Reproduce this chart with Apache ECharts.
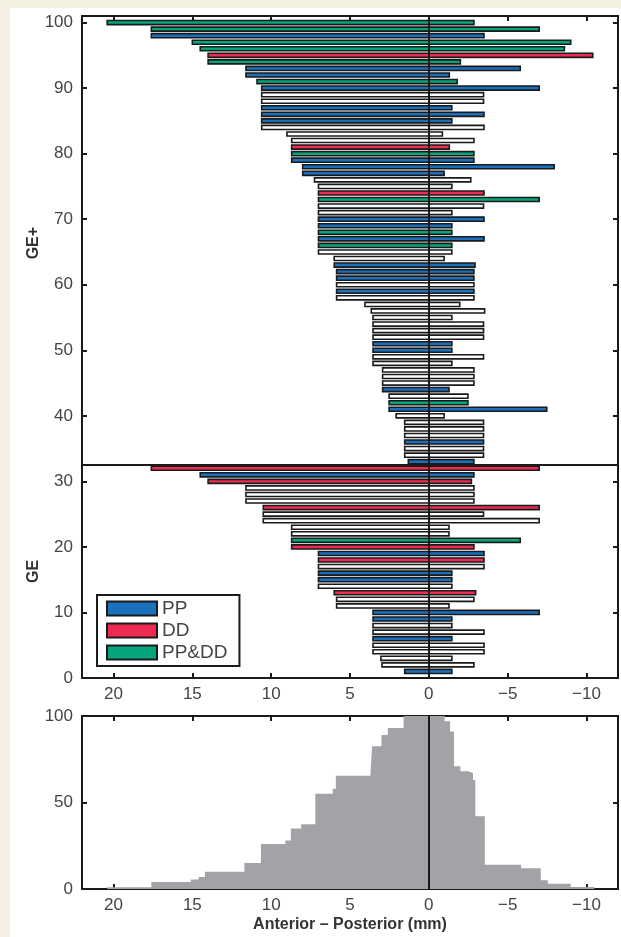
<!DOCTYPE html>
<html>
<head>
<meta charset="utf-8">
<script src="https://cdn.jsdelivr.net/npm/echarts@6/dist/echarts.min.js"></script>
<style>
  html, body { margin: 0; padding: 0; background: #f4f0e2; }
  #sheet { position: absolute; left: 10px; top: 8px; width: 611px; height: 929px; background: #fff; }
  #main { position: absolute; left: 0; top: 0; width: 621px; height: 937px; }
</style>
</head>
<body>
<div id="sheet"></div>
<div id="main"></div>
<script>
// rows are listed from the top row (100) down to row 1
// group: P = PP, D = DD, B = PP&DD, N = none
var rowGroup = [
  'B','B','P','B','B','D','B','P','P','B',
  'P','N','N','P','P','P','N','N','N','D',
  'B','P','P','P','N','N','D','B','N','N',
  'P','P','B','P','B','N','N','P','P','P',
  'N','P','N','N','N','N','N','N','N','P',
  'P','N','N','N','N','N','P','N','B','P',
  'N','N','N','N','P','N','N','P','D','P',
  'D','N','N','N','D','N','N','N','N','B',
  'D','P','D','N','P','P','N','D','N','N',
  'P','P','N','N','P','N','N','N','N','P'
];
var rowAnterior = [
  20.4, 17.6, 17.6, 15.0, 14.5, 14.0, 14.0, 11.6, 11.6, 10.9,
  10.6, 10.6, 10.6, 10.6, 10.6, 10.6, 10.6, 9.0, 8.7, 8.7,
  8.7, 8.7, 8.0, 8.0, 7.25, 7.0, 7.0, 7.0, 7.0, 7.0,
  7.0, 7.0, 7.0, 7.0, 7.0, 7.0, 6.0, 6.0, 5.85, 5.85,
  5.85, 5.85, 5.85, 4.05, 3.65, 3.54, 3.54, 3.54, 3.54, 3.54,
  3.54, 3.54, 3.54, 2.93, 2.93, 2.93, 2.93, 2.52, 2.52, 2.52,
  2.07, 1.53, 1.53, 1.53, 1.53, 1.53, 1.53, 1.3, 17.6, 14.5,
  14.0, 11.6, 11.6, 11.6, 10.5, 10.5, 10.5, 8.7, 8.7, 8.7,
  8.7, 7.0, 7.0, 7.0, 7.0, 7.0, 7.0, 6.0, 5.85, 5.85,
  3.54, 3.54, 3.54, 3.54, 3.54, 3.54, 3.54, 3.04, 2.97, 1.53
];
var rowPosterior = [
  2.86, 7.0, 3.5, 9.0, 8.6, 10.4, 2.0, 5.8, 1.3, 1.8,
  7.0, 3.47, 3.47, 1.46, 3.5, 1.46, 3.5, 0.86, 2.86, 1.3,
  2.86, 2.86, 7.95, 0.97, 2.66, 1.46, 3.5, 7.0, 3.47, 1.46,
  3.5, 1.46, 1.46, 3.5, 1.46, 1.46, 0.97, 2.93, 2.86, 2.86,
  2.86, 2.86, 2.86, 1.96, 3.54, 1.46, 3.47, 3.47, 3.47, 1.46,
  1.46, 3.47, 1.46, 2.86, 2.86, 2.86, 1.28, 2.48, 2.48, 7.48,
  0.97, 3.47, 3.47, 3.47, 3.47, 3.47, 3.47, 2.86, 7.0, 2.86,
  2.7, 2.86, 2.86, 2.86, 7.0, 3.47, 7.0, 1.28, 1.28, 5.8,
  2.86, 3.5, 3.5, 3.5, 1.46, 1.46, 1.46, 2.97, 2.86, 1.28,
  7.0, 1.46, 1.46, 3.5, 1.46, 3.5, 3.5, 1.46, 2.86, 1.46
];
var dividerRow = 32.5;

// histogram: level histCounts[i] starts at histEdges[i]
var histEdges = [20.4, 17.6, 15.1, 14.6, 14.2, 11.7, 10.65, 9.1, 8.75, 8.1, 7.2, 6.1, 5.9, 3.7, 3.6, 3.0,
  2.6, 1.6, -1.0, -1.35, -1.6, -2.0, -2.5, -2.8, -2.95, -3.55, -5.85, -7.1, -7.55, -9.0, -10.5];
var histCounts = [1, 4, 5.5, 7, 10, 15, 26, 28, 35, 37.5, 55, 58, 65.5, 67, 82.5, 89,
  93, 100, 97, 91, 71, 68, 67, 63, 42, 14, 12, 5, 3, 1.2, 0];

var xTickLabels = [20, 15, 10, 5, 0, -5, -10];
var yTickLabelsTop = [0, 10, 20, 30, 40, 50, 60, 70, 80, 90, 100];
var yTickLabelsBottom = [0, 50, 100];

var groups = [
  { code: 'P', name: 'PP', color: '#1b70bb' },
  { code: 'D', name: 'DD', color: '#ee2b53' },
  { code: 'B', name: 'PP&DD', color: '#06a67d' },
  { code: 'N', name: 'none', color: '#ffffff' }
];

var FONT = '"Liberation Sans", Arial, Helvetica, sans-serif';
var INK = '#1a1a1a';
var LABEL = '#444';

var chart = echarts.init(document.getElementById('main'), null, { renderer: 'canvas' });

function xFmt(v) {
  if (xTickLabels.indexOf(v) < 0) return '';
  return v < 0 ? '\u2212' + (-v) : String(v);
}
function yFmt(list) {
  return function (v) { return list.indexOf(v) < 0 ? '' : String(v); };
}

function renderRow(params, api) {
  var y = api.value(1);
  var a = api.coord([api.value(0), y]);
  var p = api.coord([-api.value(2), y]);
  var h = api.size([0, 0.62])[1];
  return {
    type: 'rect',
    shape: { x: Math.min(a[0], p[0]), y: a[1] - h / 2, width: Math.abs(p[0] - a[0]), height: h },
    style: { fill: api.visual('color'), stroke: INK, lineWidth: 1.6 }
  };
}

var axisLine = { show: true, onZero: false, lineStyle: { color: INK, width: 2 } };
var axisTick = { show: true, inside: true, length: 5, lineStyle: { color: INK, width: 2 } };

function xAxes(grid, name) {
  var base = {
    gridIndex: grid, type: 'value', inverse: true, min: -12, max: 22, splitNumber: 7,
    axisLine: axisLine, axisTick: axisTick, splitLine: { show: false }
  };
  var bottom = Object.assign({}, base, {
    position: 'bottom',
    axisLabel: { show: true, formatter: xFmt, color: LABEL, fontSize: 17, fontFamily: FONT, margin: 8 }
  });
  if (name) {
    bottom.name = name;
    bottom.nameLocation = 'middle';
    bottom.nameGap = 28;
    bottom.nameTextStyle = { fontSize: 16, fontWeight: 'bold', color: '#333', fontFamily: FONT };
  }
  var top = Object.assign({}, base, { position: 'top', axisLabel: { show: false } });
  return [bottom, top];
}
function yAxes(grid, max, interval, labels) {
  var base = {
    gridIndex: grid, type: 'value', min: 0, max: max, interval: interval,
    axisLine: axisLine, axisTick: axisTick, splitLine: { show: false }
  };
  return [
    Object.assign({}, base, {
      position: 'left',
      axisLabel: { formatter: yFmt(labels), color: LABEL, fontSize: 17, fontFamily: FONT, margin: 9 }
    }),
    Object.assign({}, base, { position: 'right', axisLabel: { show: false } })
  ];
}

var series = groups.map(function (g) {
  var data = [];
  for (var i = 0; i < rowGroup.length; i++) {
    if (rowGroup[i] === g.code) data.push([rowAnterior[i], rowGroup.length - i, rowPosterior[i]]);
  }
  return {
    name: g.name, type: 'custom', xAxisIndex: 0, yAxisIndex: 0,
    itemStyle: { color: g.color, borderColor: INK, borderWidth: 1.6 },
    renderItem: renderRow, data: data, silent: true, z: 2
  };
});

var refLine = { color: INK, width: 2, type: 'solid' };
series.push({
  type: 'line', xAxisIndex: 0, yAxisIndex: 0, data: [], z: 6, silent: true,
  markLine: { silent: true, symbol: 'none', label: { show: false }, lineStyle: refLine,
    data: [{ xAxis: 0 }, { yAxis: dividerRow }] }
});

series.push({
  type: 'line', xAxisIndex: 2, yAxisIndex: 2, step: 'end', symbol: 'none', silent: true,
  data: histEdges.map(function (x, i) { return [x, histCounts[i]]; }),
  lineStyle: { width: 0, color: '#a2a3a6' },
  areaStyle: { color: '#a2a3a6', opacity: 1 },
  z: 2,
  markLine: { silent: true, symbol: 'none', label: { show: false }, lineStyle: refLine, data: [{ xAxis: 0 }] }
});

chart.setOption({
  backgroundColor: 'transparent',
  animation: false,
  textStyle: { fontFamily: FONT },
  grid: [
    { left: 82, top: 16, width: 540, height: 662 },
    { left: 82, top: 716, width: 540, height: 173 }
  ],
  xAxis: xAxes(0).concat(xAxes(1, 'Anterior \u2013 Posterior (mm)')),
  yAxis: yAxes(0, 101, 10, yTickLabelsTop).concat(yAxes(1, 100, 50, yTickLabelsBottom)),
  legend: {
    data: ['PP', 'DD', 'PP&DD'],
    orient: 'vertical', left: 97, top: 595,
    itemWidth: 50, itemHeight: 14, itemGap: 3, itemTextGap: 5,
    padding: [4, 12, 4, 9],
    backgroundColor: '#fff', borderColor: INK, borderWidth: 2,
    icon: 'rect', selectedMode: false, z: 10,
    itemStyle: { borderColor: INK, borderWidth: 2 },
    textStyle: { fontSize: 19, color: LABEL, fontFamily: FONT }
  },
  series: series
});

var geTop = chart.convertToPixel({ yAxisIndex: 0 }, (101 + dividerRow) / 2 - 0.4);
var geBottom = chart.convertToPixel({ yAxisIndex: 0 }, dividerRow / 2);
var titleStyle = { fontSize: 16, fontWeight: 'bold', fill: '#333', fontFamily: FONT, align: 'center', verticalAlign: 'middle' };
chart.setOption({
  graphic: [
    { type: 'text', x: 34, y: geTop, rotation: Math.PI / 2, style: Object.assign({ text: 'GE+' }, titleStyle) },
    { type: 'text', x: 34, y: geBottom, rotation: Math.PI / 2, style: Object.assign({ text: 'GE' }, titleStyle) }
  ]
});
</script>
</body>
</html>
